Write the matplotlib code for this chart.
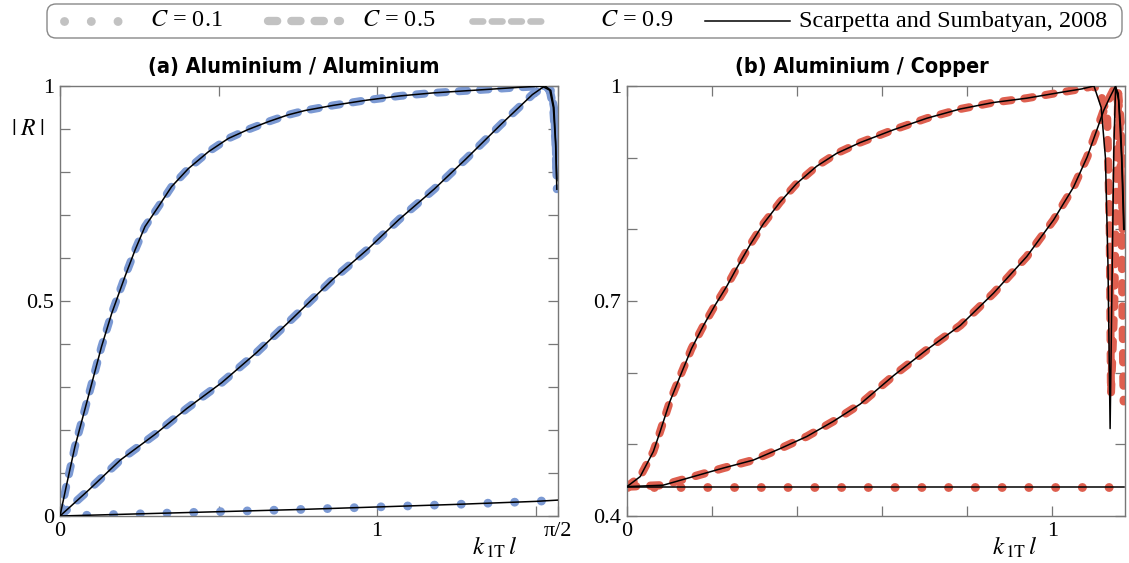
import matplotlib
matplotlib.use("Agg")
import matplotlib.pyplot as plt
from matplotlib.lines import Line2D
from matplotlib.patches import FancyBboxPatch
from matplotlib.ticker import FixedLocator

plt.rcParams["font.family"] = ["Liberation Serif", "DejaVu Serif"]
plt.rcParams["mathtext.fontset"] = "stix"

# (a) Aluminium / Aluminium
a_x_c01 = [0, 0.25, 0.5, 0.75, 1.0, 1.25, 1.5, 1.5708]
a_y_c01 = [0, 0.005, 0.010, 0.015, 0.021, 0.027, 0.034, 0.037]
a_x_c05 = [0, 0.09, 0.19, 0.30, 0.40, 0.51, 0.62, 0.72, 0.86, 0.97, 1.07, 1.18,
           1.28, 1.39, 1.49, 1.525, 1.545, 1.556, 1.563, 1.567]
a_y_c05 = [0, 0.06, 0.13, 0.19, 0.25, 0.31, 0.38, 0.45, 0.55, 0.62, 0.69, 0.76,
           0.83, 0.91, 0.98, 0.998, 0.99, 0.95, 0.87, 0.78]
a_x_c09 = [0, 0.02, 0.047, 0.089, 0.131, 0.163, 0.205, 0.237, 0.268, 0.31, 0.352,
           0.405, 0.468, 0.531, 0.594, 0.657, 0.72, 0.773, 0.862, 0.967, 1.073,
           1.178, 1.283, 1.388, 1.45, 1.50, 1.53, 1.548, 1.558, 1.564, 1.567]
a_y_c09 = [0, 0.07, 0.161, 0.277, 0.394, 0.471, 0.557, 0.619, 0.673, 0.719, 0.766,
           0.808, 0.847, 0.878, 0.899, 0.917, 0.933, 0.943, 0.955, 0.967, 0.977,
           0.984, 0.989, 0.994, 0.997, 0.999, 1.0, 0.99, 0.95, 0.86, 0.76]

# (b) Aluminium / Copper
b_x_c01 = [0, 0.3, 0.6, 0.9, 1.168]
b_y_c01 = [0.441, 0.441, 0.441, 0.441, 0.441]
b_x_c05 = [0, 0.085, 0.156, 0.227, 0.297, 0.36, 0.423, 0.485, 0.548, 0.627, 0.705,
           0.784, 0.862, 0.94, 1.003, 1.05, 1.082, 1.105, 1.121, 1.136, 1.148,
           1.157, 1.162, 1.165, 1.168]
b_y_c05 = [0.441, 0.443, 0.455, 0.467, 0.478, 0.494, 0.511, 0.532, 0.556, 0.596, 0.632,
           0.666, 0.711, 0.762, 0.813, 0.859, 0.901, 0.939, 0.966, 0.985, 0.999,
           0.97, 0.85, 0.70, 0.56]
b_x_c09 = [0, 0.031, 0.062, 0.078, 0.101, 0.129, 0.152, 0.18, 0.207, 0.235, 0.258,
           0.289, 0.321, 0.36, 0.399, 0.446, 0.493, 0.548, 0.627, 0.705, 0.784,
           0.862, 0.94, 1.019, 1.07, 1.097, 1.113, 1.129, 1.135, 1.138, 1.146,
           1.151, 1.155, 1.161, 1.166]
b_y_c09 = [0.441, 0.455, 0.490, 0.518, 0.560, 0.601, 0.634, 0.666, 0.694, 0.721, 0.746,
           0.778, 0.808, 0.838, 0.864, 0.888, 0.906, 0.921, 0.939, 0.955, 0.968,
           0.977, 0.983, 0.991, 0.996, 1.0, 0.99, 0.96, 0.80, 0.57, 0.70,
           0.88, 0.99, 0.95, 0.78]
# Scarpetta and Sumbatyan (2008), which departs from the model near the end
b_ref_x_c05 = [0, 0.085, 0.156, 0.227, 0.297, 0.36, 0.423, 0.485, 0.548, 0.627, 0.705,
               0.784, 0.862, 0.94, 1.003, 1.05, 1.082, 1.105, 1.121, 1.136, 1.148,
               1.155, 1.161, 1.166, 1.169]
b_ref_y_c05 = [0.441, 0.443, 0.455, 0.467, 0.478, 0.494, 0.511, 0.532, 0.556, 0.596, 0.632,
               0.666, 0.711, 0.762, 0.813, 0.859, 0.901, 0.939, 0.966, 0.985, 0.999,
               0.99, 0.94, 0.86, 0.80]
b_ref_x_c09 = [0, 0.031, 0.062, 0.078, 0.101, 0.129, 0.152, 0.18, 0.207, 0.235, 0.258,
               0.289, 0.321, 0.36, 0.399, 0.446, 0.493, 0.548, 0.627, 0.705, 0.784,
               0.862, 0.94, 1.019, 1.07, 1.098, 1.115, 1.125, 1.131, 1.136, 1.141,
               1.145, 1.149, 1.156, 1.163, 1.168]
b_ref_y_c09 = [0.441, 0.455, 0.490, 0.518, 0.560, 0.601, 0.634, 0.666, 0.694, 0.721, 0.746,
               0.778, 0.808, 0.838, 0.864, 0.888, 0.906, 0.921, 0.939, 0.955, 0.968,
               0.977, 0.983, 0.991, 0.996, 1.0, 0.97, 0.90, 0.75, 0.522, 0.75,
               0.92, 1.0, 0.98, 0.90, 0.80]

BLUE = "#7B99D3"
RED = "#DE5F4F"
GREY = "#C2C2C2"
SPINE = "#777777"

DOT = dict(lw=6.4, ls=(0, (0.01, 3.0)), dash_capstyle="round", solid_capstyle="round")
DASH5 = dict(lw=6.0, ls=(0, (1.1, 1.7)), dash_capstyle="round", solid_capstyle="round")
DASH9 = dict(lw=5.8, ls=(0, (1.05, 1.6)), dash_capstyle="round", solid_capstyle="round")
REF = dict(lw=1.1, color="black", zorder=5)

fig = plt.figure(figsize=(11.29, 5.63), dpi=100)
W, H = 1129, 563
ax_a = fig.add_axes([60 / W, 1 - 516 / H, 498 / W, 430 / H])
ax_b = fig.add_axes([627 / W, 1 - 516 / H, 498 / W, 430 / H])


def style_axes(ax):
    for spine in ax.spines.values():
        spine.set_color(SPINE)
        spine.set_linewidth(1.0)
    ax.tick_params(which="both", direction="in", top=True, right=True,
                   length=7, width=0.9, color=SPINE, labelsize=16, pad=4)


# panel (a)
ax_a.plot(a_x_c01, a_y_c01, color=BLUE, **DOT)
ax_a.plot(a_x_c05, a_y_c05, color=BLUE, **DASH5)
ax_a.plot(a_x_c09, a_y_c09, color=BLUE, **DASH9)
ax_a.plot(a_x_c01, a_y_c01, **REF)
ax_a.plot(a_x_c05, a_y_c05, **REF)
ax_a.plot(a_x_c09, a_y_c09, **REF)
ax_a.set_xlim(0, 1.5708)
ax_a.set_ylim(0, 1)
ax_a.xaxis.set_major_locator(FixedLocator([0, 1, 1.5708]))
ax_a.set_xticklabels(["0", "1", "π/2"])
ax_a.xaxis.set_minor_locator(FixedLocator([0.5, 1.5]))
ax_a.yaxis.set_major_locator(FixedLocator([0, 0.5, 1]))
ax_a.set_yticklabels(["0", "0.5", "1"])
ax_a.yaxis.set_minor_locator(FixedLocator([0.1, 0.2, 0.3, 0.4, 0.6, 0.7, 0.8, 0.9]))
style_axes(ax_a)
ax_a.text(-0.065, 0.9, r"$|\;R\;|$", transform=ax_a.transAxes, fontsize=17,
          ha="center", va="center")
ax_a.text(0.873, -0.074, r"$k_{\,\mathrm{1T}}\,l$", transform=ax_a.transAxes,
          fontsize=18, ha="center", va="center")

# panel (b)
ax_b.plot(b_x_c01, b_y_c01, color=RED, **DOT)
ax_b.plot(b_x_c05, b_y_c05, color=RED, **DASH5)
ax_b.plot(b_x_c09, b_y_c09, color=RED, **DASH9)
ax_b.plot(b_x_c01, b_y_c01, **REF)
ax_b.plot(b_ref_x_c05, b_ref_y_c05, **REF)
ax_b.plot(b_ref_x_c09, b_ref_y_c09, **REF)
ax_b.set_xlim(0, 1.171)
ax_b.set_ylim(0.4, 1)
ax_b.xaxis.set_major_locator(FixedLocator([0, 1]))
ax_b.set_xticklabels(["0", "1"])
ax_b.xaxis.set_minor_locator(FixedLocator([0.2, 0.4, 0.6, 0.8]))
ax_b.yaxis.set_major_locator(FixedLocator([0.4, 0.7, 1]))
ax_b.set_yticklabels(["0.4", "0.7", "1"])
ax_b.yaxis.set_minor_locator(FixedLocator([0.5, 0.6, 0.8, 0.9]))
style_axes(ax_b)
ax_b.text(0.779, -0.074, r"$k_{\,\mathrm{1T}}\,l$", transform=ax_b.transAxes,
          fontsize=18, ha="center", va="center")

title_font = dict(family=["DejaVu Sans"], fontweight="bold", fontstretch="condensed",
                  fontsize=15.5, ha="center", va="center")
fig.text(294 / W, 1 - 67 / H, "(a) Aluminium / Aluminium", **title_font)
fig.text(862 / W, 1 - 67 / H, "(b) Aluminium / Copper", **title_font)

# legend strip across the top
fig.add_artist(FancyBboxPatch((0.47, 5.25), 10.75, 0.34,
                              boxstyle="round,pad=0,rounding_size=0.09",
                              transform=fig.dpi_scale_trans, facecolor="white",
                              edgecolor="#888888", linewidth=1.0))
ly = 1 - 21 / H
legend_items = [
    ((64, 140), 150, r"$C$ = 0.1", dict(color=GREY, **DOT)),
    ((268, 340), 362, r"$C$ = 0.5", dict(color=GREY, **DASH5)),
    ((472, 545), 600, r"$C$ = 0.9", dict(color=GREY, lw=4.8, ls=(0, (1.6, 1.3)),
                                         dash_capstyle="round")),
    ((705, 790), 799, "Scarpetta and Sumbatyan, 2008", dict(color="black", lw=1.1)),
]
for (x0, x1), tx, label, kw in legend_items:
    fig.add_artist(Line2D([x0 / W, x1 / W], [ly, ly], transform=fig.transFigure, **kw))
    fig.text(tx / W, ly, label, fontsize=17.5, ha="left", va="center")

fig.savefig("out.png", dpi=100)
